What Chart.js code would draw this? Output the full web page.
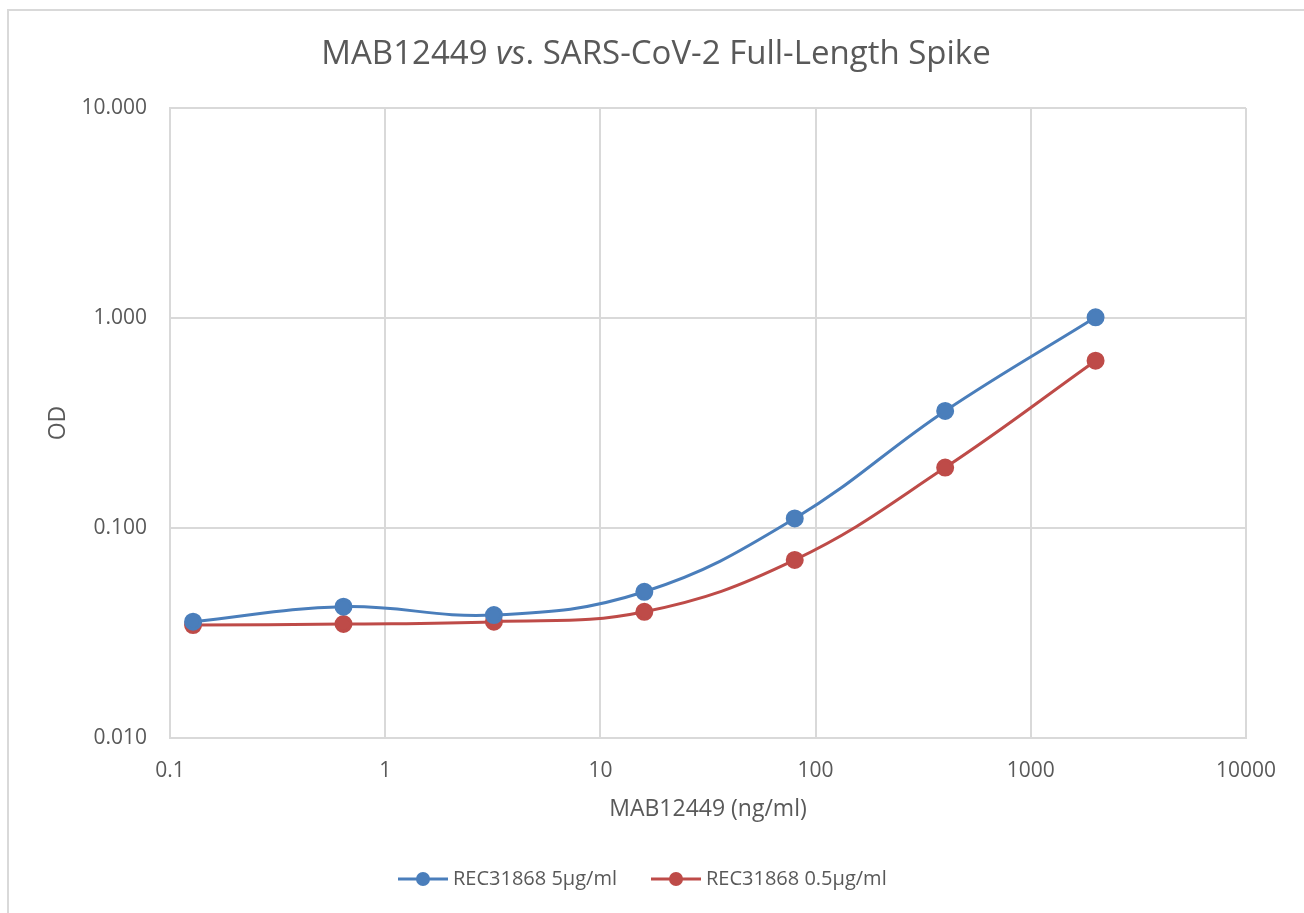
<!DOCTYPE html>
<html>
<head>
<meta charset="utf-8">
<script src="https://cdn.jsdelivr.net/npm/chart.js@4/dist/chart.umd.min.js"></script>
<style>
  body { margin: 0; background: #fff; }
  canvas { display: block; }
</style>
</head>
<body>
<canvas id="odChart" width="1304" height="913"></canvas>
<script>
// concentrations (ng/ml), 5-fold dilutions
const concentrations = [0.128, 0.64, 3.2, 16, 80, 400, 2000];
const od5 = [0.0358, 0.0422, 0.0385, 0.0497, 0.111, 0.361, 1.008];
const od05 = [0.0345, 0.0349, 0.0358, 0.0399, 0.0705, 0.194, 0.626];
const seriesNames = ['REC31868 5µg/ml', 'REC31868 0.5µg/ml'];
const xTicks = [0.1, 1, 10, 100, 1000, 10000];
const yTicks = [0.01, 0.1, 1, 10];

const textColor = '#595959';
const gridColor = '#D9D9D9';
const fontFamily = '"Open Sans", Calibri, sans-serif';

function toPoints(xs, ys) {
    return xs.map((x, i) => ({ x: x, y: ys[i] }));
}

// title (with italic "vs."), axis titles, legend and outer border
const decorations = {
    id: 'decorations',
    afterDraw(chart) {
        const ctx = chart.ctx;
        const area = chart.chartArea;
        ctx.save();

        // outer frame
        ctx.strokeStyle = gridColor;
        ctx.lineWidth = 2;
        ctx.strokeRect(8, 10, 1310, 920);

        ctx.fillStyle = textColor;
        ctx.textBaseline = 'middle';

        // title
        const parts = [
            { t: 'MAB12449 ', f: '33px ' + fontFamily },
            { t: 'vs', f: 'italic 33px ' + fontFamily },
            { t: '. SARS-CoV-2 Full-Length Spike', f: '33px ' + fontFamily }
        ];
        let total = 0;
        parts.forEach(p => { ctx.font = p.f; p.w = ctx.measureText(p.t).width; total += p.w; });
        let x = 656 - total / 2;
        ctx.textAlign = 'left';
        parts.forEach(p => { ctx.font = p.f; ctx.fillText(p.t, x, 55); x += p.w; });

        // axis titles
        ctx.font = '23px ' + fontFamily;
        ctx.textAlign = 'center';
        ctx.fillText('MAB12449 (ng/ml)', (area.left + area.right) / 2, 809);
        ctx.save();
        ctx.translate(58, (area.top + area.bottom) / 2);
        ctx.rotate(-Math.PI / 2);
        ctx.fillText('OD', 0, 0);
        ctx.restore();

        // legend: line with marker, then label
        ctx.font = '20px ' + fontFamily;
        ctx.textAlign = 'left';
        const ly = 879;
        const starts = [398, 651];
        chart.data.datasets.forEach((ds, i) => {
            const sx = starts[i];
            ctx.strokeStyle = ds.borderColor;
            ctx.lineWidth = 3;
            ctx.beginPath();
            ctx.moveTo(sx, ly);
            ctx.lineTo(sx + 50, ly);
            ctx.stroke();
            ctx.fillStyle = ds.backgroundColor;
            ctx.beginPath();
            ctx.arc(sx + 25, ly, 7, 0, Math.PI * 2);
            ctx.fill();
            ctx.fillStyle = textColor;
            ctx.fillText(ds.label, sx + 55, ly);
        });
        ctx.restore();
    }
};

const config = {
    type: 'line',
    data: {
        datasets: [
            {
                label: seriesNames[0],
                data: toPoints(concentrations, od5),
                borderColor: '#4A7EBB',
                backgroundColor: '#4A7EBB',
                borderWidth: 3,
                pointRadius: 7.5,
                pointHoverRadius: 7.5,
                tension: 0.4
            },
            {
                label: seriesNames[1],
                data: toPoints(concentrations, od05),
                borderColor: '#BE4B48',
                backgroundColor: '#BE4B48',
                borderWidth: 3,
                pointRadius: 7.5,
                pointHoverRadius: 7.5,
                tension: 0.4
            }
        ]
    },
    options: {
        responsive: false,
        animation: false,
        layout: { padding: { top: 108, right: 58, bottom: 0, left: 0 } },
        plugins: {
            legend: { display: false },
            title: { display: false },
            tooltip: { enabled: false }
        },
        scales: {
            x: {
                type: 'logarithmic',
                min: 0.1,
                max: 10000,
                afterBuildTicks: (scale) => { scale.ticks = xTicks.map(v => ({ value: v })); },
                afterFit: (scale) => { scale.height = 175; },
                ticks: {
                    color: textColor,
                    font: { family: fontFamily, size: 21 },
                    padding: 20,
                    maxRotation: 0,
                    callback: (v) => String(v)
                },
                grid: { color: gridColor, lineWidth: 2, drawTicks: false },
                border: { color: gridColor, width: 2 }
            },
            y: {
                type: 'logarithmic',
                min: 0.01,
                max: 10,
                afterBuildTicks: (scale) => { scale.ticks = yTicks.map(v => ({ value: v })); },
                afterFit: (scale) => { scale.width = 170; },
                ticks: {
                    color: textColor,
                    font: { family: fontFamily, size: 21 },
                    padding: 23,
                    callback: (v) => Number(v).toFixed(3)
                },
                grid: { color: gridColor, lineWidth: 2, drawTicks: false },
                border: { color: gridColor, width: 2 }
            }
        }
    },
    plugins: [decorations]
};

const odChart = new Chart(document.getElementById('odChart'), config);
</script>
</body>
</html>
